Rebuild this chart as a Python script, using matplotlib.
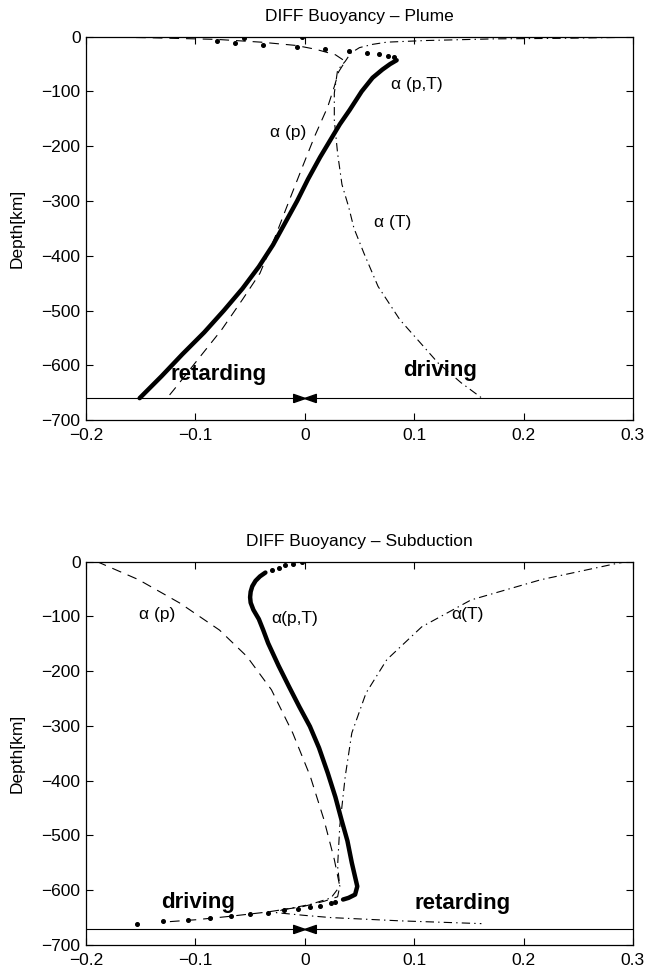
import numpy as np
import matplotlib
matplotlib.use("Agg")
import matplotlib.pyplot as plt
from matplotlib.ticker import FuncFormatter

plt.rcParams["font.family"] = ["Liberation Sans", "DejaVu Sans"]
plt.rcParams["lines.scale_dashes"] = False

# ---- Plume panel (depth in km, buoyancy contribution) ----
plume_pT_depth = [-43, -50, -60, -75, -100, -134, -160, -190, -220, -260, -300,
                  -340, -380, -420, -460, -500, -540, -580, -620, -660]
plume_pT = [0.084, 0.078, 0.071, 0.062, 0.052, 0.041, 0.032, 0.023, 0.014, 0.003,
            -0.007, -0.018, -0.029, -0.042, -0.057, -0.074, -0.092, -0.112, -0.131, -0.151]
plume_dots_depth = [0, -3, -7, -12, -15, -18, -23, -25.5, -29, -32, -35, -38]
plume_dots = [-0.003, -0.056, -0.080, -0.064, -0.0385, -0.0074, 0.0185, 0.040,
              0.0566, 0.068, 0.0763, 0.082]
plume_p_depth = [0, -2, -5, -10, -16, -23, -33, -45, -64, -91, -128, -182, -237,
                 -298, -365, -432, -480, -535, -590, -638, -660]
plume_p = [-0.20, -0.14, -0.08, -0.04, -0.008, 0.010, 0.028, 0.037, 0.031, 0.027,
           0.021, 0.009, -0.002, -0.014, -0.027, -0.041, -0.057, -0.076, -0.098,
           -0.117, -0.126]
plume_T_depth = [-1, -3, -4, -7, -10, -14, -20, -30, -45, -61, -103, -152, -213,
                 -270, -310, -350, -395, -456, -517, -553, -596, -632, -660]
plume_T = [0.30, 0.235, 0.173, 0.111, 0.075, 0.062, 0.050, 0.042, 0.037, 0.030,
           0.027, 0.027, 0.030, 0.034, 0.040, 0.045, 0.054, 0.067, 0.087, 0.103,
           0.122, 0.143, 0.162]
plume_line = -660

# ---- Subduction panel ----
sub_pT_depth = [-20, -27, -35, -45, -55, -65, -75, -88, -105, -125, -149, -190,
                -228, -265, -301, -340, -386, -430, -471, -510, -550, -593, -608,
                -614, -617]
sub_pT = [-0.036, -0.041, -0.045, -0.048, -0.0495, -0.050, -0.0495, -0.047, -0.042,
          -0.038, -0.0335, -0.024, -0.0145, -0.005, 0.0047, 0.013, 0.021, 0.028,
          0.0335, 0.039, 0.043, 0.048, 0.046, 0.040, 0.035]
sub_dots_depth = [0, -4, -7, -11, -15, -621, -623, -628, -630, -634, -636.5,
                  -641, -644, -647, -650.5, -653.5, -656.5, -661]
sub_dots = [-0.003, -0.011, -0.018, -0.024, -0.030, 0.028, 0.024, 0.0143,
            0.0047, -0.0065, -0.0193, -0.0337, -0.0497, -0.0672, -0.0864, -0.107,
            -0.1296, -0.1536]
sub_p_depth = [0, -33, -76, -125, -173, -234, -313, -392, -471, -544, -593, -612,
               -620, -630, -640, -648, -654, -658]
sub_p = [-0.19, -0.152, -0.114, -0.078, -0.053, -0.0305, -0.011, 0.005, 0.0175,
         0.027, 0.032, 0.030, 0.018, -0.002, -0.035, -0.070, -0.100, -0.128]
sub_T_depth = [0, -3, -33, -70, -119, -179, -240, -313, -392, -483, -556, -593,
               -614, -626, -636, -641, -646, -650, -656, -661]
sub_T = [0.295, 0.286, 0.216, 0.152, 0.107, 0.075, 0.056, 0.043, 0.037, 0.032,
         0.030, 0.032, 0.024, 0.005, -0.021, -0.026, 0.000, 0.024, 0.088, 0.1615]
sub_line = -670

bowtie_x = [-0.0053, 0.0052]
xticks = [-0.2, -0.1, 0, 0.1, 0.2, 0.3]
yticks = [0, -100, -200, -300, -400, -500, -600, -700]

DASH = (0, (7, 5))
DASHDOT = (0, (6, 3, 1, 3))
FS = 12.5
tri_r = [(-1, -0.7), (1, 0), (-1, 0.7), (-1, -0.7)]
tri_l = [(1, -0.7), (-1, 0), (1, 0.7), (1, -0.7)]

fmt = FuncFormatter(lambda v, p: ("%g" % v).replace("-", "\u2212"))

fig = plt.figure(figsize=(6.62, 9.73), dpi=100)
ax1 = fig.add_axes([0.130, 0.5683, 0.826, 0.394])
ax2 = fig.add_axes([0.130, 0.0288, 0.826, 0.394])


def panel(ax, title, pT_d, pT, dots_d, dots, p_d, p, T_d, T, line_y):
    ax.plot(p, p_d, color="k", lw=0.8, ls=DASH)
    ax.plot(T, T_d, color="k", lw=0.8, ls=DASHDOT)
    ax.plot(pT, pT_d, color="k", lw=3.2, solid_capstyle="round",
            solid_joinstyle="round")
    ax.plot(dots, dots_d, "o", color="k", ms=2.6, ls="none")
    ax.axhline(line_y, color="k", lw=0.8)
    ax.plot([bowtie_x[0]], [line_y], marker=tri_r, ms=8.4, color="k", ls="none")
    ax.plot([bowtie_x[1]], [line_y], marker=tri_l, ms=8.4, color="k", ls="none")
    ax.set_xlim(-0.2, 0.3)
    ax.set_ylim(-700, 0)
    ax.set_xticks(xticks)
    ax.set_yticks(yticks)
    ax.xaxis.set_major_formatter(fmt)
    ax.yaxis.set_major_formatter(fmt)
    ax.tick_params(direction="in", top=True, right=True, length=5, width=0.8,
                   labelsize=FS)
    ax.tick_params(axis="x", pad=6)
    ax.tick_params(axis="y", pad=4)
    for s in ax.spines.values():
        s.set_linewidth(0.9)
    ax.set_title(title, fontsize=FS, pad=11.5)
    ax.set_ylabel("Depth[km]", fontsize=FS)
    ax.yaxis.set_label_coords(-0.112, 0.5)


panel(ax1, "DIFF Buoyancy \u2013 Plume", plume_pT_depth, plume_pT, plume_dots_depth,
      plume_dots, plume_p_depth, plume_p, plume_T_depth, plume_T, plume_line)
panel(ax2, "DIFF Buoyancy \u2013 Subduction", sub_pT_depth, sub_pT, sub_dots_depth,
      sub_dots, sub_p_depth, sub_p, sub_T_depth, sub_T, sub_line)

# labels on the plume panel
ax1.text(-0.015, -175, "\u03b1 (p)", fontsize=FS, ha="center", va="center")
ax1.text(0.102, -88, "\u03b1 (p,T)", fontsize=FS, ha="center", va="center")
ax1.text(0.080, -340, "\u03b1 (T)", fontsize=FS, ha="center", va="center")
ax1.text(-0.079, -616, "retarding", fontsize=16, fontweight="bold", ha="center", va="center")
ax1.text(0.124, -610, "driving", fontsize=16, fontweight="bold", ha="center", va="center")

# labels on the subduction panel
ax2.text(-0.135, -97, "\u03b1 (p)", fontsize=FS, ha="center", va="center")
ax2.text(-0.009, -103, "\u03b1(p,T)", fontsize=FS, ha="center", va="center")
ax2.text(0.149, -97, "\u03b1(T)", fontsize=FS, ha="center", va="center")
ax2.text(-0.098, -622, "driving", fontsize=16, fontweight="bold", ha="center", va="center")
ax2.text(0.1445, -625, "retarding", fontsize=16, fontweight="bold", ha="center", va="center")

fig.savefig("out.png", dpi=100)
